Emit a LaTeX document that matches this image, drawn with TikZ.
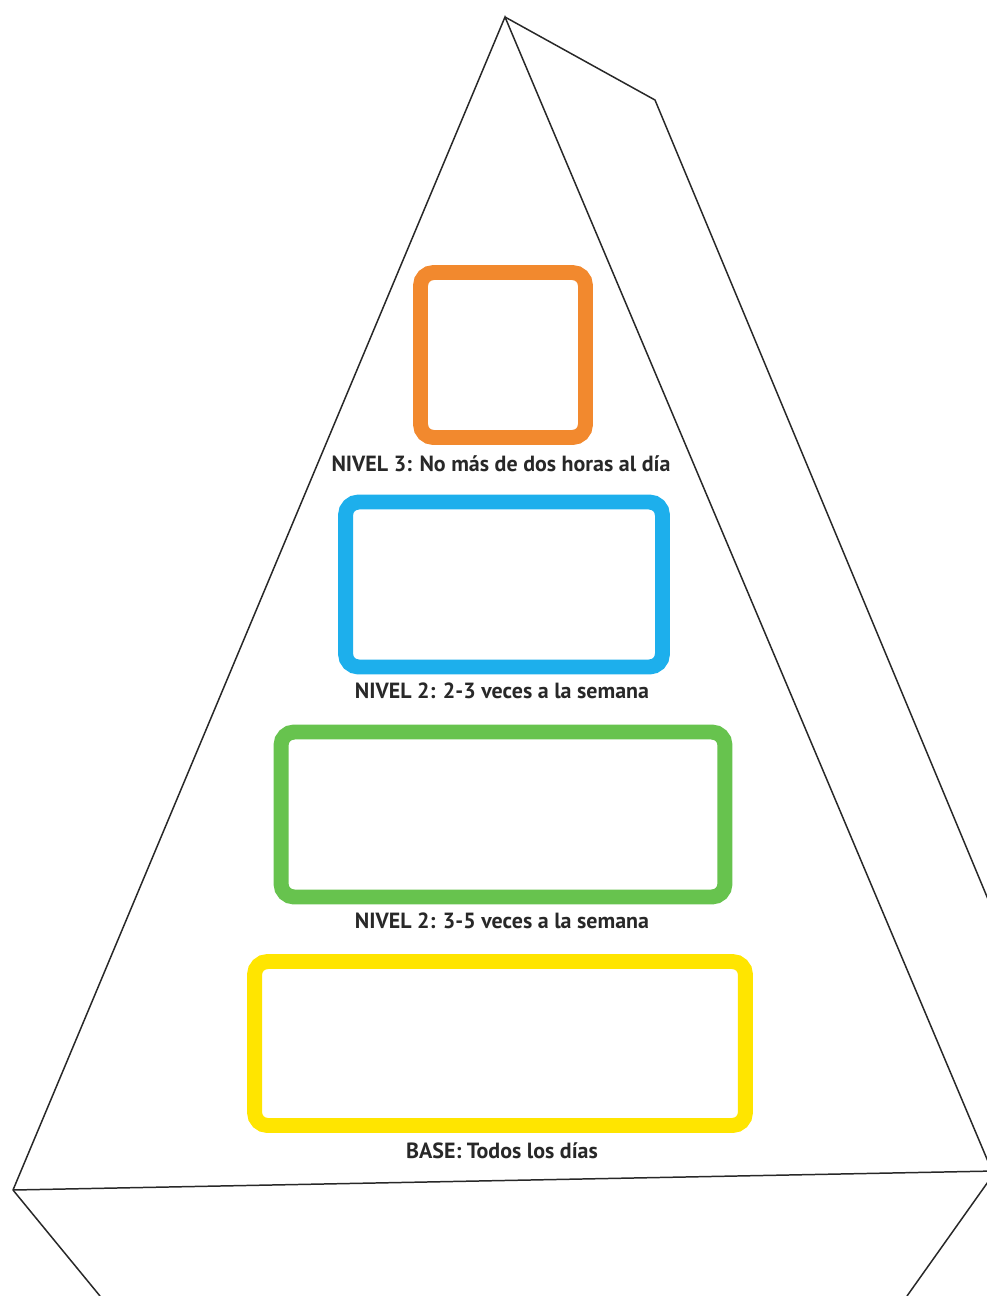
\documentclass[tikz,border=0pt]{standalone}
\usepackage{fontspec}
\setmainfont{PT Sans}
\usetikzlibrary{positioning}
\definecolor{nivelthree}{RGB}{242, 137, 46}
\definecolor{niveltwo}{RGB}{29, 175, 236}
\definecolor{nivelone}{RGB}{103, 195, 78}
\definecolor{base}{RGB}{255, 229, 0}
\definecolor{ink}{RGB}{40, 40, 40}
\tikzset{
    edge/.style={draw=ink, line width=0.85pt, line join=miter},
    slot/.style={rectangle, rounded corners=0.26cm, line width=8.5pt, fill=white, inner sep=0pt, minimum height=3.3cm},
    lbl/.style={font=\bfseries\fontsize{12.5}{14}\selectfont, text=ink, inner sep=0pt, anchor=base}
}
\begin{document}
\begin{tikzpicture}[x=0.02cm, y=-0.02cm]
        \useasboundingbox (0,0) rectangle (987,1296);
        \clip (0,0) rectangle (987,1296);

        \coordinate (apex) at (505,17);
        \coordinate (shoulder) at (655,100);
        \coordinate (outr) at (995,916);
        \coordinate (innr) at (995,1178);
        \coordinate (bl) at (13,1190);
        \coordinate (br) at (995,1171);
        \coordinate (blo) at (100,1296);
        \coordinate (bri) at (995,1172);
        \coordinate (bro) at (907,1296);

        \draw[edge] (bl) -- (apex) -- (innr);
        \draw[edge] (apex) -- (shoulder) -- (outr);
        \draw[edge] (bl) -- (br);
        \draw[edge] (bl) -- (blo);
        \draw[edge] (bri) -- (bro);

        \node[slot, draw=nivelthree, minimum width=3.3cm] (lvlthree) at (503,355) {};
        \node[slot, draw=niveltwo, minimum width=6.34cm] (lvltwo) at (504,584.5) {};
        \node[slot, draw=nivelone, minimum width=8.88cm] (lvlone) at (503,814.5) {};
        \node[slot, draw=base, minimum width=9.82cm, minimum height=3.28cm] (lvlbase) at (500,1043.5) {};

        \node[lbl] (txtthree) at (501,471) {NIVEL 3: No más de dos horas al día};
        \node[lbl] (txttwo) at (502,698) {NIVEL 2: 2-3 veces a la semana};
        \node[lbl] (txtone) at (502,928) {NIVEL 2: 3-5 veces a la semana};
        \node[lbl] (txtbase) at (502,1158) {BASE: Todos los días};
    \end{tikzpicture}
\end{document}
